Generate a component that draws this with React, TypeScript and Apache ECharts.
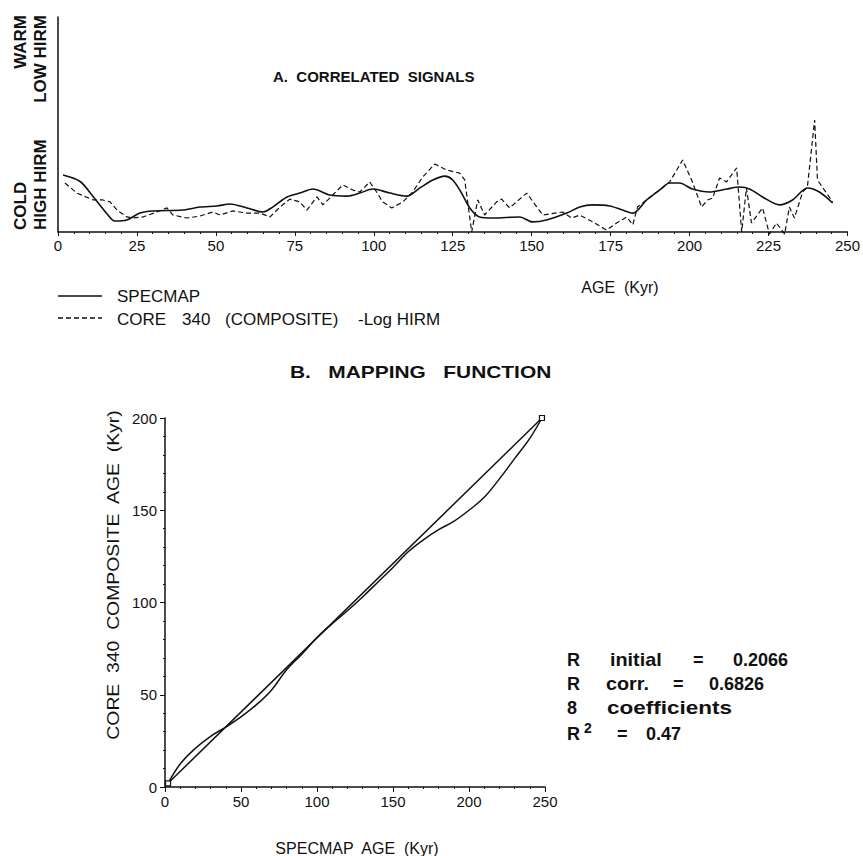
import React, { useEffect, useRef } from "react";
import * as echarts from "echarts";

// ---- Panel A: correlated signals (relative units, 0 = cold/high HIRM) ----
const specmapAge = [1.6, 7, 11.1, 15.5, 18, 21.8, 25.9, 30.1, 39.6, 44.9, 50.3, 54.4, 59.8, 64.9, 68, 72.5, 76.6, 80.7, 86.1, 91.5, 95.6, 99.7, 105.1, 110.4, 114.6, 118.7, 122.5, 125, 127.8, 130.4, 133.5, 137.7, 146.2, 150.3, 154.7, 161.1, 165.2, 169.3, 174.7, 178.8, 182, 186.4, 190.5, 193.7, 196.8, 200.9, 206.3, 211.7, 215.8, 219, 223.1, 228.5, 232.6, 237.3, 241.1, 245.3];
const specmapValue = [26.5, 23.5, 16.5, 8.5, 5.1, 5.6, 8.8, 9.8, 10.2, 11.6, 12.1, 13.0, 11.2, 9.3, 11.6, 16.3, 18.1, 20.0, 17.2, 16.7, 18.1, 20.0, 18.1, 16.7, 20.5, 24.2, 26.0, 24.2, 18.1, 11.2, 7.0, 6.5, 7.0, 4.7, 5.6, 8.8, 11.6, 12.6, 12.1, 10.2, 8.8, 14.9, 19.5, 22.8, 22.8, 20.0, 18.6, 20.0, 20.9, 20.0, 16.3, 12.6, 14.9, 20.5, 18.6, 13.5];

const coreAge = [2.2, 6, 11.1, 14.2, 16.5, 18.7, 21.8, 23.7, 26.9, 31.3, 34.5, 36.4, 40.8, 44.9, 49.1, 51.3, 55.4, 59.8, 63.9, 67.1, 70.3, 73.4, 76.6, 78.8, 82, 83.9, 87, 90.2, 93.4, 95.6, 98.7, 100.9, 102.8, 105.7, 109.2, 112.3, 115.5, 119.3, 123.1, 127.2, 128.8, 131, 132.9, 135.1, 138.9, 140.5, 143, 148.4, 153.5, 159.8, 162.7, 165.2, 169.3, 173.7, 176.9, 180.1, 182, 183.5, 186.4, 190.5, 193.7, 197.8, 200.9, 203.8, 205.7, 207.3, 209.5, 211.7, 214.9, 216.5, 218, 219.6, 223.1, 225.3, 227.5, 230.1, 231.6, 233.2, 235.8, 237.3, 239.6, 240.5, 242.7, 245.3];
const coreValue = [22.8, 18.1, 14.9, 14.9, 14.0, 10.2, 7.0, 6.5, 7.0, 9.3, 11.2, 7.9, 6.5, 7.4, 9.3, 7.9, 9.8, 8.8, 8.8, 7.0, 11.6, 15.3, 14.0, 10.2, 16.3, 12.6, 17.2, 21.9, 19.5, 18.6, 23.3, 18.6, 14.0, 11.2, 14.0, 18.6, 25.6, 31.6, 28.8, 27.4, 24.2, 0, 14.9, 7.9, 14.0, 15.3, 11.2, 18.1, 7.9, 9.3, 6.5, 7.9, 4.7, 0.9, 4.2, 7.0, 3.3, 11.6, 14.9, 19.5, 23.3, 33.5, 23.3, 11.6, 14.9, 15.8, 25.1, 23.3, 29.8, 0, 20.5, 4.2, 11.2, -1, 4.2, -1, 11.6, 6.5, 18.6, 20.9, 52.1, 24.2, 19.5, 14.0];

// ---- Panel B: mapping function ----
const mapSpecmapAge = [2, 10, 20, 30, 40, 50, 60, 70, 80, 90, 100, 110, 120, 130, 140, 150, 160, 170, 180, 190, 200, 210, 220, 230, 240, 248];
const mapCoreAge = [2, 12.5, 21, 27.5, 32.5, 38, 44.5, 52.5, 63.5, 72, 81, 88.5, 95.5, 103, 111, 119, 127.5, 134, 139.5, 144, 150, 157, 167, 178, 189, 200];
const linearSpecmapAge = [2, 248];
const linearCoreAge = [2, 200];

// statistics block: words of each row
const statRows = [
  ["R", "initial", "=", "0.2066"],
  ["R", "corr.", "=", "0.6826"],
  ["8", "coefficients"],
];
const r2Value = "0.47";
const legendCoreWords = ["CORE", "340", "(COMPOSITE)", "-Log HIRM"];

const zip = (xs: number[], ys: number[]) => {
  const n = Math.min(xs.length, ys.length);
  const out: number[][] = [];
  for (let i = 0; i < n; i++) out.push([xs[i], ys[i]]);
  return out;
};

const FONT = "'Liberation Sans', Arial, Helvetica, sans-serif";

export default function App() {
  const ref = useRef<HTMLDivElement>(null);
  useEffect(() => {
    if (!ref.current) return;
    const chart = echarts.init(ref.current, null, { renderer: "svg" });
    const black = "#111";
    const bold = (s: number) => `bold ${s}px ${FONT}`;
    const txt = (text: string, x: number, y: number, font: string, extra: any = {}, el: any = {}) => ({
      type: "text", x, y, ...el, style: { text, font, fill: black, verticalAlign: "middle", ...extra },
    });
    const vtxt = (text: string, x: number, y: number, font: string, align: string, sx = 1) => ({
      type: "text", x, y, rotation: Math.PI / 2, scaleX: sx,
      style: { text, font, fill: black, align, verticalAlign: "middle" },
    });
    const statX = [[567, 610, 693, 733], [567, 606, 673, 709], [567, 607]];
    const statScale = [[1, 1.1, 1, 1], [1, 1.1, 1, 1], [1, 1.25]];
    const statY = [660, 684, 708];
    const statGraphics: any[] = [];
    statRows.forEach((row, i) =>
      row.forEach((w, j) => statGraphics.push(txt(w, statX[i][j], statY[i], bold(18), {}, { scaleX: statScale[i][j] })))
    );
    statGraphics.push(txt("R", 567, 734, bold(18)));
    statGraphics.push(txt("2", 584, 728, bold(14)));
    statGraphics.push(txt("=", 617, 734, bold(18)));
    statGraphics.push(txt(r2Value, 646, 734, bold(18)));

    const legendX = [117, 182, 225, 358];
    const legendGraphics = legendCoreWords.map((w, i) => txt(w, legendX[i], 319, `17px ${FONT}`));

    const tickFont = { color: black, fontSize: 15, fontFamily: FONT };
    const option: any = {
      animation: false,
      backgroundColor: "#fff",
      textStyle: { fontFamily: FONT, color: black },
      grid: [
        { left: 58, top: 17, width: 790, height: 215, containLabel: false },
        { left: 165, top: 418, width: 380, height: 369, containLabel: false },
      ],
      xAxis: [
        {
          gridIndex: 0, type: "value", min: 0, max: 250, interval: 25,
          axisLine: { lineStyle: { color: black, width: 1.5 } },
          axisTick: { show: true, length: 4, lineStyle: { color: black } },
          minorTick: { show: true, splitNumber: 5, length: 2, lineStyle: { color: black } },
          splitLine: { show: false },
          axisLabel: { ...tickFont, margin: 6 },
        },
        {
          gridIndex: 1, type: "value", min: 0, max: 250, interval: 50,
          axisLine: { lineStyle: { color: black, width: 1.5 } },
          axisTick: { show: true, length: 5, lineStyle: { color: black } },
          minorTick: { show: true, splitNumber: 5, length: 2, lineStyle: { color: black } },
          splitLine: { show: false },
          axisLabel: { ...tickFont, margin: 7 },
        },
      ],
      yAxis: [
        {
          gridIndex: 0, type: "value", min: 0, max: 100,
          axisLine: { show: true, lineStyle: { color: black, width: 1.5 } },
          axisTick: { show: false }, axisLabel: { show: false }, splitLine: { show: false },
        },
        {
          gridIndex: 1, type: "value", min: 0, max: 200, interval: 50,
          axisLine: { show: true, lineStyle: { color: black, width: 1.5 } },
          axisTick: { show: true, length: 5, lineStyle: { color: black } },
          minorTick: { show: true, splitNumber: 5, length: 2, lineStyle: { color: black } },
          splitLine: { show: false },
          axisLabel: { ...tickFont, margin: 8 },
        },
      ],
      series: [
        {
          name: "SPECMAP", type: "line", xAxisIndex: 0, yAxisIndex: 0,
          data: zip(specmapAge, specmapValue), smooth: 0.3, showSymbol: false,
          lineStyle: { color: black, width: 1.6 },
        },
        {
          name: "CORE 340 (COMPOSITE) -Log HIRM", type: "line", xAxisIndex: 0, yAxisIndex: 0,
          data: zip(coreAge, coreValue), smooth: false, showSymbol: false, clip: false,
          lineStyle: { color: black, width: 1.2, type: [5, 3] },
        },
        {
          name: "Mapping", type: "line", xAxisIndex: 1, yAxisIndex: 1,
          data: zip(mapSpecmapAge, mapCoreAge), smooth: 0.4, showSymbol: false,
          lineStyle: { color: black, width: 1.5 },
        },
        {
          name: "Linear", type: "line", xAxisIndex: 1, yAxisIndex: 1,
          data: zip(linearSpecmapAge, linearCoreAge), showSymbol: true, symbol: "rect", symbolSize: 5,
          itemStyle: { color: "#fff", borderColor: black, borderWidth: 1.2 },
          lineStyle: { color: black, width: 1.5 },
        },
      ],
      graphic: [
        txt("A.  CORRELATED  SIGNALS", 273, 76, bold(15)),
        txt("B.   MAPPING   FUNCTION", 290, 372, bold(17), {}, { scaleX: 1.23 }),
        vtxt("WARM", 20, 15, bold(17), "right"),
        vtxt("LOW HIRM", 40, 15, bold(17), "right"),
        vtxt("COLD", 20, 230, bold(17), "left"),
        vtxt("HIGH HIRM", 40, 230, bold(17), "left"),
        txt("AGE  (Kyr)", 620, 287, `16px ${FONT}`, { align: "center" }),
        { type: "line", shape: { x1: 58, y1: 296, x2: 102, y2: 296 }, style: { stroke: black, lineWidth: 1.3 } },
        txt("SPECMAP", 117, 296, `17px ${FONT}`),
        { type: "line", shape: { x1: 58, y1: 318, x2: 102, y2: 318 }, style: { stroke: black, lineWidth: 1.3, lineDash: [5, 3] } },
        ...legendGraphics,
        vtxt("CORE  340  COMPOSITE  AGE  (Kyr)", 113, 575, `17px ${FONT}`, "center", 1.14),
        txt("SPECMAP  AGE  (Kyr)", 357, 848, `16px ${FONT}`, { align: "center" }),
        ...statGraphics,
      ],
    };
    chart.setOption(option);
    return () => chart.dispose();
  }, []);
  return <div ref={ref} style={{ position: "fixed", left: 0, top: 0, width: 863, height: 856, background: "#fff" }} />;
}
